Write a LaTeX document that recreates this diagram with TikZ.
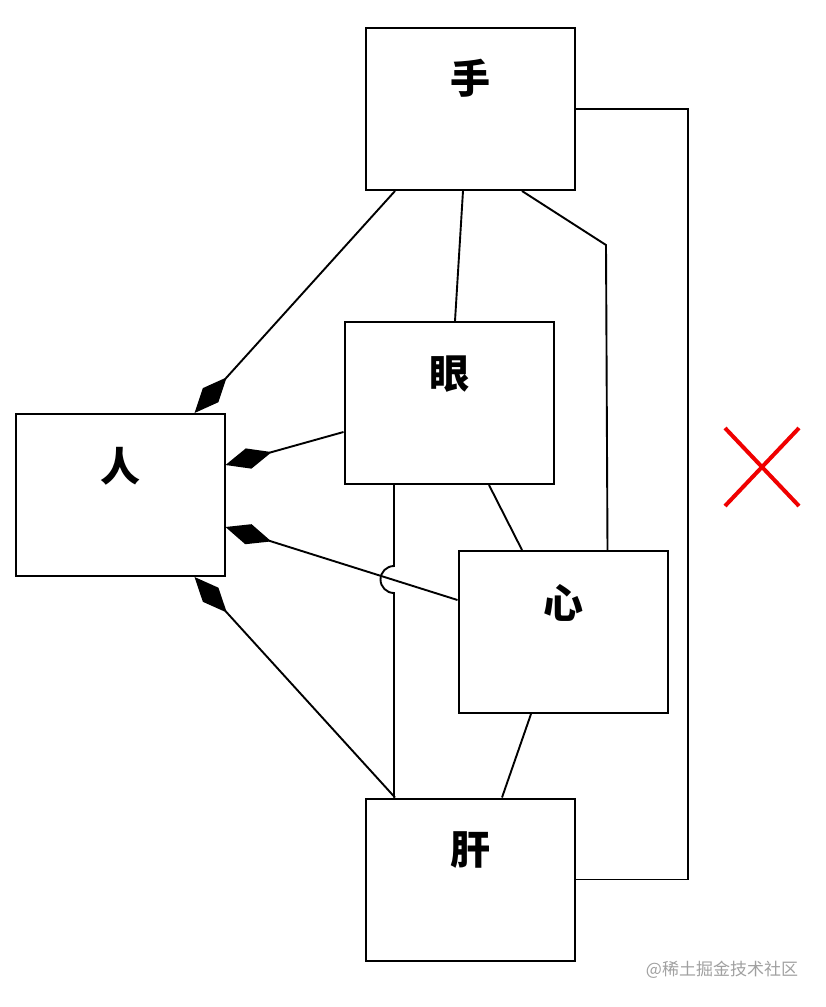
\documentclass[tikz,border=0pt]{standalone}
\usepackage{fontspec}
\usepackage{tikz}
\usetikzlibrary{arrows.meta, calc, positioning, shapes.misc}
\newfontfamily\cjk{Noto Sans CJK SC}
\definecolor{crossred}{RGB}{240,0,0}
\definecolor{markgray}{RGB}{160,160,160}

\begin{document}
\begin{tikzpicture}[x=1pt, y=-1pt, line width=2pt,
    part/.style={draw, rectangle, minimum width=209pt, minimum height=162pt, inner sep=0pt},
    parttext/.style={anchor=center, font=\cjk\bfseries\fontsize{40}{44}\selectfont},
    link/.style={line width=1.9pt},
    own/.style={link, {Diamond[length=48pt, width=21pt]}-}]
    \useasboundingbox (0,0) rectangle (825,1007);

    % Parts
    \node[part, label={[parttext, yshift=-51pt]north:手}] (shou) at (470.5,109) {};
    \node[part, label={[parttext, yshift=-53pt]north:眼}] (yan) at (449,403) {};
    \node[part, label={[parttext, yshift=-53pt]north:人}] (ren) at (120,495) {};
    \node[part, label={[parttext, yshift=-53pt]north:心}] (xin) at (563,632) {};
    \node[part, label={[parttext, yshift=-53pt]north:肝}] (gan) at (470.5,879.5) {};

    % Helper points
    \coordinate (bend) at (606,245);
    \coordinate (loopx) at (688,0);

    % Whole to parts
    \draw[own] ([xshift=-31pt]ren.north east) -- ([xshift=30pt]shou.south west);
    \draw[own] ([yshift=30pt]ren.east) -- ([yshift=-29pt]yan.west);
    \draw[own] ([yshift=-32pt]ren.east) -- ([yshift=32pt]xin.west);
    \draw[own] ([xshift=-31pt]ren.south east) -- ([xshift=30pt]gan.north west);

    % Parts to parts
    \draw[link] ([xshift=-7.5pt]shou.south) -- ([xshift=6pt]yan.north);
    \draw[link] ([xshift=-54pt]shou.south east) -- (bend) -- ([xshift=-61pt]xin.north east);
    \draw[link] (shou.east) -- (shou.east -| loopx) -- (gan.east -| loopx) -- (gan.east);
    \draw[link] ([xshift=-55pt]yan.south) -- (394,566) arc[start angle=270, end angle=90, radius=13.5]
        -- ([xshift=-76.5pt]gan.north);
    \draw[link] ([xshift=40pt]yan.south) -- ([xshift=-41pt]xin.north);
    \draw[link] ([xshift=-32pt]xin.south) -- ([xshift=31.5pt]gan.north);

    % Red cross
    \node[cross out, draw=crossred, line width=4pt, minimum width=70pt, minimum height=74pt, inner sep=0pt] (nope) at (762,467) {};

    % Watermark
    \node[markgray, font=\cjk\fontsize{17}{20}\selectfont] (mark) at (722,970) {@稀土掘金技术社区};
\end{tikzpicture}
\end{document}
